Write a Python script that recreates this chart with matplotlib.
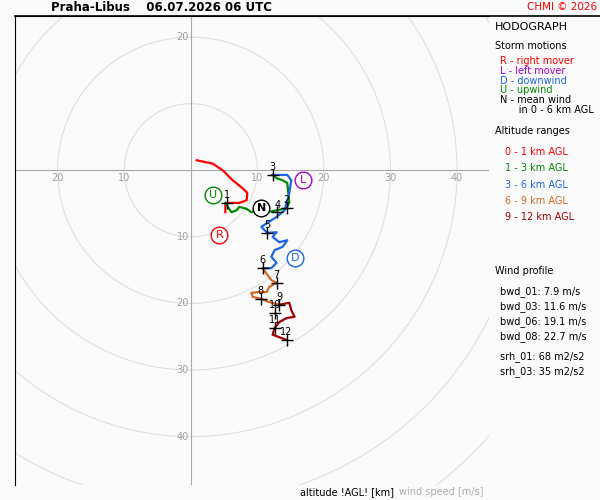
import matplotlib.pyplot as plt
import numpy as np

# hodograph segments (u, v) in m/s, v negative = southward on screen
seg_0_1 = [(0.9, 1.5), (3.3, 1.0), (4.8, 0.0), (6.3, -1.5), (7.8, -2.7), (8.5, -3.4),
           (8.4, -4.5), (7.3, -4.9), (5.8, -4.9), (5.2, -4.9), (5.2, -6.3)]
seg_1_3 = [(5.2, -4.9), (6.1, -6.3), (6.9, -6.0), (7.3, -5.5), (8.4, -5.8), (9.1, -6.3),
           (10.0, -6.0), (11.4, -6.3), (13.0, -6.0), (14.4, -5.7), (14.8, -4.8),
           (14.5, -1.9), (13.8, -1.5), (12.9, -1.2), (12.3, -0.7)]
seg_3_6 = [(12.3, -0.7), (14.5, -0.7), (15.1, -1.5), (14.8, -3.4), (14.1, -6.0), (12.9, -7.0),
           (11.5, -7.9), (10.6, -8.5), (11.5, -9.4), (12.9, -9.3), (12.3, -10.0), (13.3, -10.8),
           (14.5, -10.5), (13.8, -11.5), (12.6, -12.0), (12.1, -13.0), (12.9, -13.9),
           (12.1, -14.7), (10.8, -14.7)]
seg_6_9 = [(10.8, -14.7), (11.5, -15.7), (12.1, -16.5), (12.9, -16.9), (11.8, -17.5),
           (11.4, -18.3), (10.3, -18.3), (9.1, -18.4), (9.3, -19.0), (10.5, -19.3),
           (11.8, -19.8), (13.3, -20.2)]
seg_9_12 = [(13.3, -20.2), (14.8, -19.9), (15.1, -21.0), (15.6, -22.0), (14.4, -22.2),
            (13.3, -22.8), (12.6, -23.7), (12.3, -24.7), (14.4, -25.5)]
seg_colors = ["#ff0000", "#008800", "#1a66e6", "#d2691e", "#a00000"]

km_labels = ["1", "2", "3", "4", "5", "6", "7", "8", "9", "10", "11", "12"]
km_u = [5.4, 14.4, 12.3, 13.0, 11.5, 10.8, 12.9, 10.5, 13.3, 12.6, 12.6, 14.4]
km_v = [-4.9, -5.6, -0.7, -6.3, -9.4, -14.7, -16.9, -19.3, -20.2, -21.4, -23.7, -25.5]

storm_labels = ["U", "R", "N", "L", "D"]
storm_u = [3.3, 4.3, 10.6, 16.8, 15.7]
storm_v = [-3.7, -9.7, -5.7, -1.5, -13.2]
storm_colors = ["#008800", "#ff0000", "black", "#aa00cc", "#1a66e6"]

rings = [10, 20, 30, 40, 50, 60, 70]

fig = plt.figure(figsize=(6, 5), dpi=100)
fig.patch.set_facecolor("#fafafa")
ax = fig.add_axes([0.025, 0.03, 0.79, 0.938])
ax.set_facecolor("#fafafa")
ax.set_xlim(-26.4, 44.8)
ax.set_ylim(-47.2, 23.1)
ax.set_aspect("equal")
ax.set_xticks([])
ax.set_yticks([])
for s in ["right", "bottom"]:
    ax.spines[s].set_visible(False)

t = np.linspace(0, 2 * np.pi, 400)
for r in rings:
    ax.plot(r * np.cos(t), r * np.sin(t), color="#e0e0e0", lw=0.8, zorder=1)
ax.axhline(0, color="#a8a8a8", lw=0.8, zorder=1)
ax.axvline(0, color="#a8a8a8", lw=0.8, zorder=1)
lab = dict(color="#a0a0a0", fontsize=7, ha="center", va="center", zorder=2)
for r in [10, 20]:
    ax.text(-r, -1.2, str(r), **lab)
for r in [10, 20, 30, 40]:
    ax.text(r, -1.2, str(r), **lab)
    ax.text(-1.2, -r, str(r), **lab)
ax.text(-1.2, 20, "20", **lab)

for seg, c in zip([seg_0_1, seg_1_3, seg_3_6, seg_6_9, seg_9_12], seg_colors):
    u, v = zip(*seg)
    ax.plot(u, v, color=c, lw=1.6, zorder=3)

ax.plot(km_u, km_v, "+", color="black", ms=9, mew=1, zorder=4)
for l, u, v in zip(km_labels, km_u, km_v):
    ax.text(u, v + 0.4, l, fontsize=7, ha="center", va="bottom", zorder=5)

for l, u, v, c in zip(storm_labels, storm_u, storm_v, storm_colors):
    ax.plot(u, v, "o", ms=12, mfc="white", mec=c, mew=1, zorder=6)
    ax.text(u, v, l, color=c, fontsize=8, ha="center", va="center", zorder=7,
            fontweight="bold" if l == "N" else "normal")

fig.add_artist(plt.Line2D([0.025, 1.0], [0.968, 0.968], color="black", lw=1.2))
fig.text(0.085, 0.985, "Praha-Libus    06.07.2026 06 UTC", fontsize=8.5, fontweight="bold",
         va="center")
fig.text(0.995, 0.985, "CHMI © 2026", color="red", fontsize=7.5, ha="right", va="center")

x0 = 0.825
fig.text(x0, 0.945, "HODOGRAPH", fontsize=8, va="center")
fig.text(x0, 0.908, "Storm motions", fontsize=7, va="center")
legend_lines = [("R - right mover", "#ff0000"), ("L - left mover", "#aa00cc"),
                ("D - downwind", "#1a66e6"), ("U - upwind", "#008800"),
                ("N - mean wind", "black"), ("      in 0 - 6 km AGL", "black")]
for i, (txt, c) in enumerate(legend_lines):
    fig.text(x0 + 0.008, 0.878 - i * 0.0195, txt, color=c, fontsize=7, va="center")
fig.text(x0, 0.737, "Altitude ranges", fontsize=7, va="center")
alt_labels = ["0 - 1 km AGL", "1 - 3 km AGL", "3 - 6 km AGL", "6 - 9 km AGL", "9 - 12 km AGL"]
for i, (txt, c) in enumerate(zip(alt_labels, seg_colors)):
    fig.text(x0 + 0.016, 0.696 - i * 0.0325, txt, color=c, fontsize=7, va="center")

fig.text(x0, 0.457, "Wind profile", fontsize=7, va="center")
prof = ["bwd_01: 7.9 m/s", "bwd_03: 11.6 m/s", "bwd_06: 19.1 m/s", "bwd_08: 22.7 m/s"]
for i, txt in enumerate(prof):
    fig.text(x0 + 0.008, 0.417 - i * 0.03, txt, fontsize=7, va="center")
srh = ["srh_01: 68 m2/s2", "srh_03: 35 m2/s2"]
for i, txt in enumerate(srh):
    fig.text(x0 + 0.008, 0.287 - i * 0.03, txt, fontsize=7, va="center")

fig.text(0.5, 0.016, "altitude !AGL! [km]", fontsize=7, va="center")
fig.text(0.665, 0.016, "wind speed [m/s]", fontsize=7, color="#b0b0b0", va="center")

fig.savefig("out.png", dpi=100, facecolor=fig.get_facecolor())
